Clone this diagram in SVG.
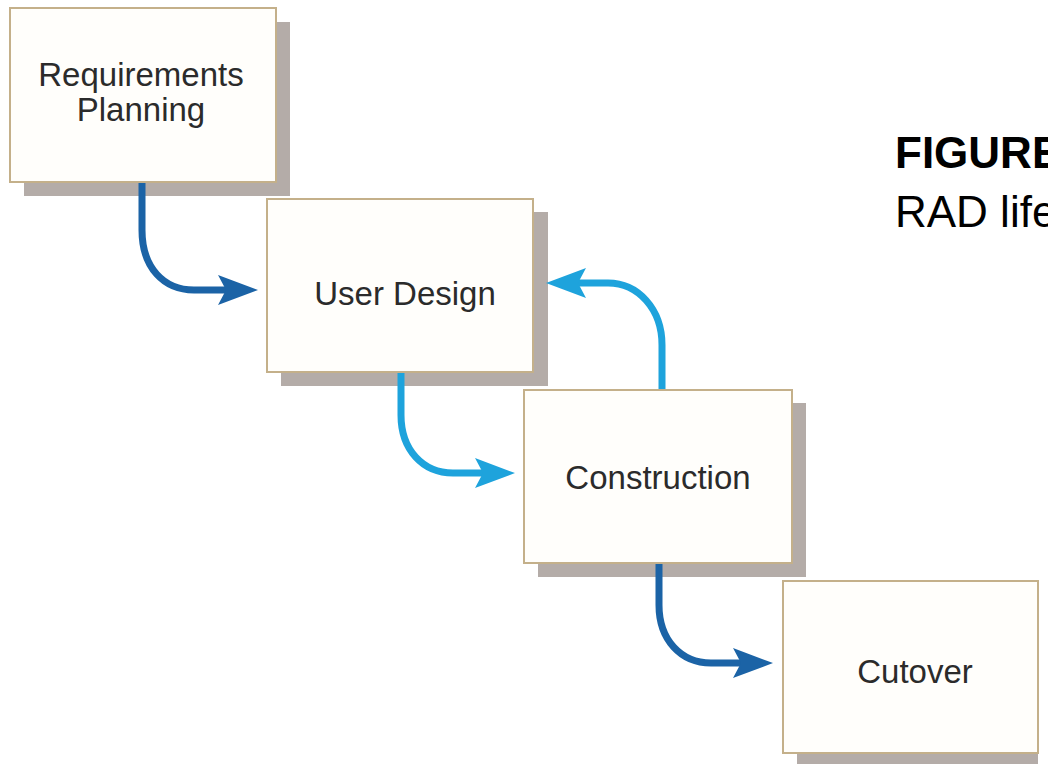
<svg xmlns="http://www.w3.org/2000/svg" width="1048" height="764" viewBox="0 0 1048 764">
  <style>
    .shadow { fill: #b4aca8; }
    .box { fill: #fffefb; stroke: #c4b08a; stroke-width: 2; }
    .label { font-family: "Liberation Sans", Arial, sans-serif; font-size: 33px; fill: #2b2b2b; text-anchor: middle; }
    .dark { fill: none; stroke: #1b63a6; stroke-width: 7; }
    .light { fill: none; stroke: #1ea3dc; stroke-width: 7; }
    .title { font-family: "Liberation Sans", Arial, sans-serif; font-size: 44px; fill: #000; }
  </style>
  <defs>
    <marker id="headDark" viewBox="0 0 40 30" refX="8" refY="15" markerWidth="40" markerHeight="30" markerUnits="userSpaceOnUse" orient="auto">
      <path d="M0,0 L40,15 L0,30 L8,15 Z" fill="#1b63a6"/>
    </marker>
    <marker id="headLight" viewBox="0 0 40 30" refX="8" refY="15" markerWidth="40" markerHeight="30" markerUnits="userSpaceOnUse" orient="auto">
      <path d="M0,0 L40,15 L0,30 L8,15 Z" fill="#1ea3dc"/>
    </marker>
  </defs>
  <rect width="1048" height="764" fill="#ffffff"/>

  <g id="node-requirements">
    <rect class="shadow" x="24" y="22" width="266" height="174"/>
    <rect class="box" x="10" y="8" width="266" height="174"/>
    <text class="label" x="141" y="86">Requirements</text>
    <text class="label" x="141" y="121">Planning</text>
  </g>
  <g id="node-userdesign">
    <rect class="shadow" x="281" y="212" width="267" height="174"/>
    <rect class="box" x="267" y="199" width="266" height="173"/>
    <text class="label" x="405" y="305">User Design</text>
  </g>
  <g id="node-construction">
    <rect class="shadow" x="538" y="403" width="268" height="174"/>
    <rect class="box" x="524" y="390" width="268" height="173"/>
    <text class="label" x="658" y="489">Construction</text>
  </g>
  <g id="node-cutover">
    <rect class="shadow" x="797" y="595" width="241" height="174"/>
    <rect class="box" x="783" y="581" width="255" height="172"/>
    <text class="label" x="915" y="683">Cutover</text>
  </g>

  <g id="connectors">
    <path class="dark" d="M142,183 V230 C142,268 164,290 194,290 H226" marker-end="url(#headDark)"/>
    <path class="light" d="M401,373 V415 C401,450 423,473 453,473 H483" marker-end="url(#headLight)"/>
    <path class="light" d="M662,389 V345 C662,309 638,283 608,283 H578" marker-end="url(#headLight)"/>
    <path class="dark" d="M659,564 V605 C659,640 681,663 711,663 H741" marker-end="url(#headDark)"/>
  </g>

  <g id="caption">
    <text class="title" x="895" y="168" font-weight="bold">FIGURE</text>
    <text class="title" x="895" y="227">RAD life</text>
  </g>
</svg>
